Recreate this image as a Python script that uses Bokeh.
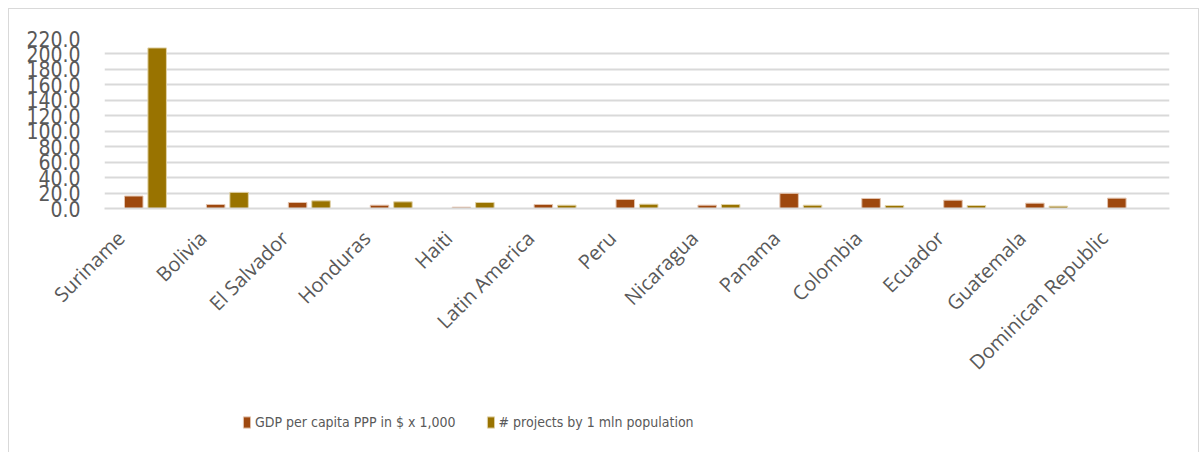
import math
from bokeh.plotting import figure
from bokeh.layouts import column
from bokeh.models import ColumnDataSource, FixedTicker, NumeralTickFormatter, Legend, LegendItem
from bokeh.embed import file_html
from bokeh.resources import INLINE

categories = ["Suriname", "Bolivia", "El Salvador", "Honduras", "Haiti", "Latin America",
              "Peru", "Nicaragua", "Panama", "Colombia", "Ecuador", "Guatemala",
              "Dominican Republic"]
gdp_per_capita = [16.1, 5.2, 7.8, 4.3, 1.7, 5.2, 11.7, 4.3, 19.6, 13.0, 10.8, 6.9, 13.4]
projects_per_mln = [207.8, 20.9, 9.9, 8.6, 7.8, 4.3, 5.6, 5.2, 4.3, 3.9, 3.9, 3.0, 0.0]
y_ticks = [0, 20, 40, 60, 80, 100, 120, 140, 160, 180, 200, 220]
series_names = ["GDP per capita PPP in $ x 1,000", "# projects by 1 mln population"]

BROWN = "#9E480E"
GOLD = "#997300"

n = len(categories)
idx = list(range(n))
x_gdp = [i + 0.5 - 0.143 for i in idx]
x_proj = [i + 0.5 + 0.143 for i in idx]
label_pos = [i + 0.5 - 0.30 for i in idx]

src = ColumnDataSource(data=dict(cat=categories, xg=x_gdp, xp=x_proj,
                                 gdp=gdp_per_capita, proj=projects_per_mln))

p = figure(width=1189, height=390, x_range=(0, n), y_range=(0, 220),
           output_backend="svg", toolbar_location=None,
           min_border_left=95, min_border_right=29, min_border_top=29, min_border_bottom=191)
p.outline_line_color = None
p.background_fill_color = "white"
p.border_fill_color = "white"

p.vbar(x="xg", top="gdp", width=0.226, source=src,
       fill_color=BROWN, line_color="#E2C3AE", line_width=1)
p.vbar(x="xp", top="proj", width=0.226, source=src,
       fill_color=GOLD, line_color="#E0D2A8", line_width=1)

p.xgrid.grid_line_color = None
p.ygrid.grid_line_color = "#D9D9D9"
p.ygrid.grid_line_width = 2
p.ygrid.ticker = FixedTicker(ticks=y_ticks)

p.yaxis.ticker = FixedTicker(ticks=y_ticks)
p.yaxis.formatter = NumeralTickFormatter(format="0.0")
p.yaxis.axis_line_color = None
p.yaxis.major_tick_line_color = None
p.yaxis.minor_tick_line_color = None
p.yaxis.major_label_standoff = 18
p.yaxis.major_label_text_font = "DejaVu Sans Condensed"
p.yaxis.major_label_text_font_size = "21px"
p.yaxis.major_label_text_color = "#595959"

p.xaxis.ticker = FixedTicker(ticks=label_pos)
p.xaxis.major_label_overrides = {pos: name for pos, name in zip(label_pos, categories)}
p.xaxis.axis_line_color = "#D9D9D9"
p.xaxis.axis_line_width = 2
p.xaxis.major_tick_line_color = None
p.xaxis.minor_tick_line_color = None
p.xaxis.major_label_orientation = math.pi / 4
p.xaxis.major_label_standoff = 20
p.xaxis.major_label_text_font = "Open Sans"
p.xaxis.major_label_text_font_size = "20px"
p.xaxis.major_label_text_color = "#595959"

# legend strip below the chart; its swatch bars lie far below its visible y range
p2 = figure(width=1189, height=54, x_range=(0, n), y_range=(1000, 1001),
            output_backend="svg", toolbar_location=None, min_border=0)
p2.axis.visible = False
p2.grid.grid_line_color = None
p2.outline_line_color = None
p2.background_fill_color = "white"
p2.border_fill_color = "white"
l1 = p2.vbar(x="xg", top="gdp", width=0.226, source=src,
             fill_color=BROWN, line_color="#E2C3AE", line_width=1)
l2 = p2.vbar(x="xp", top="proj", width=0.226, source=src,
             fill_color=GOLD, line_color="#E0D2A8", line_width=1)

legend = Legend(items=[LegendItem(label=series_names[0], renderers=[l1]),
                       LegendItem(label=series_names[1], renderers=[l2])],
                orientation="horizontal", location=(138, 23),
                glyph_width=9, glyph_height=14, label_standoff=4, spacing=30,
                label_text_font="DejaVu Sans Condensed", label_text_font_size="14px",
                label_text_color="#595959", border_line_color=None,
                background_fill_alpha=0, padding=0, margin=0)
p2.add_layout(legend, "center")

layout = column(p, p2, spacing=0)
layout.margin = (8, 0, 0, 8)
layout.styles = {"border": "1px solid #D9D9D9"}

open("out.html", "w").write(file_html(layout, INLINE))
